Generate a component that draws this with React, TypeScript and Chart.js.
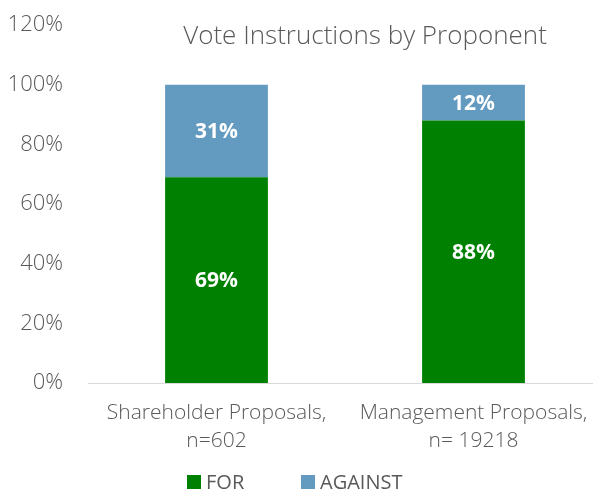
import React, { useEffect, useRef } from "react";
import { Chart, registerables } from "chart.js";

Chart.register(...registerables);

const categories: string[][] = [
  ["Shareholder Proposals,", "n=602"],
  ["Management Proposals,", "n= 19218"],
];
const forValues = [0.69, 0.88];
const againstValues = [0.31, 0.12];
const seriesNames = ["FOR", "AGAINST"];
const seriesColors = ["#008000", "#639ABF"];
const titleText = "Vote Instructions by Proponent";
const yMax = 1.2;
const yStep = 0.2;

const FONT = "'Open Sans', 'DejaVu Sans', sans-serif";
const CANVAS_W = 610;
const CANVAS_H = 490;

const valueLabels = {
  id: "valueLabels",
  afterDatasetsDraw(chart: any) {
    const ctx = chart.ctx;
    ctx.save();
    ctx.fillStyle = "#ffffff";
    ctx.font = `bold 21px ${FONT}`;
    ctx.textAlign = "center";
    ctx.textBaseline = "middle";
    chart.data.datasets.forEach((ds: any, i: number) => {
      const meta = chart.getDatasetMeta(i);
      meta.data.forEach((bar: any, j: number) => {
        const v = ds.data[j];
        const c = bar.getCenterPoint();
        ctx.fillText(Math.round(v * 100) + "%", c.x, c.y + 1);
      });
    });
    ctx.restore();
  },
};

const titleAndLegend = {
  id: "titleAndLegend",
  afterDraw(chart: any) {
    const ctx = chart.ctx;
    ctx.save();
    ctx.fillStyle = "#595959";
    ctx.font = `300 26px ${FONT}`;
    ctx.textAlign = "center";
    ctx.textBaseline = "middle";
    ctx.fillText(titleText, 365, 37);

    // legend
    ctx.font = `20px ${FONT}`;
    ctx.textAlign = "left";
    const positions = [187, 301];
    chart.data.datasets.forEach((ds: any, i: number) => {
      const x = positions[i];
      const y = 482;
      ctx.fillStyle = ds.backgroundColor;
      ctx.fillRect(x, y - 7, 14, 14);
      ctx.fillStyle = "#595959";
      ctx.fillText(ds.label, x + 19, y + 1);
    });
    ctx.restore();
  },
};

export default function App() {
  const ref = useRef<HTMLCanvasElement | null>(null);
  useEffect(() => {
    if (!ref.current) return;
    const chart = new Chart(ref.current, {
      type: "bar",
      data: {
        labels: categories,
        datasets: [
          { label: seriesNames[0], data: forValues, backgroundColor: seriesColors[0] },
          { label: seriesNames[1], data: againstValues, backgroundColor: seriesColors[1] },
        ],
      },
      options: {
        animation: false,
        responsive: false,
        maintainAspectRatio: false,
        layout: { autoPadding: false, padding: { left: 7, right: 8, top: 25, bottom: 19 } },
        plugins: {
          legend: { display: false },
          title: { display: false },
          tooltip: { enabled: false },
        },
        datasets: {
          bar: { categoryPercentage: 0.4, barPercentage: 1 },
        },
        scales: {
          x: {
            stacked: true,
            grid: { display: false, drawTicks: false },
            border: { display: true, color: "#D9D9D9", width: 1 },
            ticks: {
              color: "#595959",
              font: { family: FONT, size: 21, weight: "300", lineHeight: 1.38 },
              padding: 15,
              maxRotation: 0,
            },
            afterFit: (scale: any) => {
              scale.paddingLeft = 0;
              scale.paddingRight = 0;
            },
          },
          y: {
            stacked: true,
            min: 0,
            max: yMax,
            grid: { display: false, drawTicks: false },
            border: { display: false },
            ticks: {
              stepSize: yStep,
              color: "#595959",
              font: { family: FONT, size: 22, weight: "300" },
              padding: 25,
              callback: (v: any) => Math.round(Number(v) * 100) + "%",
            },
            afterFit: (scale: any) => {
              scale.width = 81;
              scale.paddingTop = 0;
              scale.paddingBottom = 0;
            },
          },
        },
      },
      plugins: [valueLabels, titleAndLegend],
    });
    return () => chart.destroy();
  }, []);
  return (
    <div style={{ position: "absolute", left: 0, top: 0, width: 593, height: 490, overflow: "hidden" }}>
      <canvas ref={ref} width={CANVAS_W} height={CANVAS_H} style={{ width: CANVAS_W, height: CANVAS_H, display: "block" }} />
    </div>
  );
}
